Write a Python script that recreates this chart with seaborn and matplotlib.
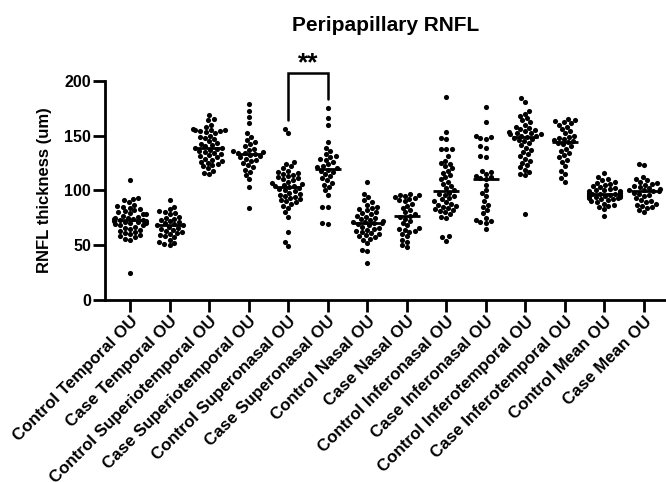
import numpy as np
import pandas as pd
import matplotlib
matplotlib.use("Agg")
import matplotlib.pyplot as plt
import seaborn as sns

categories = ["Control Temporal OU", "Case Temporal OU", "Control Superiotemporal OU",
              "Case Superiotemporal OU", "Control Superonasal OU", "Case Superonasal OU",
              "Control Nasal OU", "Case Nasal OU", "Control Inferonasal OU",
              "Case Inferonasal OU", "Control Inferotemporal OU", "Case Inferotemporal OU",
              "Control Mean OU", "Case Mean OU"]

control_temporal = [109, 25, 93, 92, 91, 89, 87, 86, 85, 84, 83, 82, 81, 80, 79, 78, 78, 77, 76, 75,
                    75, 74, 74, 73, 73, 72, 72, 71, 71, 70, 70, 69, 68, 68, 67, 66, 65, 64, 63, 62,
                    61, 60, 59, 58, 57, 56, 55]
case_temporal = [91, 85, 83, 81, 80, 79, 78, 76, 75, 74, 73, 72, 71, 70, 69, 68, 68, 67, 66, 65,
                 64, 63, 62, 61, 60, 59, 58, 57, 55, 53, 52, 51, 50]
control_superiotemporal = [169, 165, 164, 160, 158, 156, 155, 155, 155, 154, 154, 153, 152, 150, 149,
                           148, 147, 145, 143, 142, 141, 140, 139, 139, 138, 137, 136, 135, 134, 133,
                           132, 131, 130, 129, 128, 127, 126, 125, 124, 123, 122, 120, 118, 116, 115]
case_superiotemporal = [179, 172, 167, 161, 152, 149, 146, 144, 142, 140, 138, 137, 136, 135, 134, 134,
                        133, 132, 131, 130, 129, 128, 127, 125, 123, 121, 119, 117, 114, 110, 103, 84]
control_superonasal = [156, 152, 126, 124, 122, 120, 118, 117, 116, 115, 114, 113, 112, 111, 110, 109,
                       108, 107, 106, 105, 104, 104, 103, 102, 101, 100, 99, 98, 97, 96, 95, 94, 93,
                       92, 91, 90, 89, 88, 86, 84, 80, 76, 62, 53, 49]
case_superonasal = [175, 166, 160, 144, 139, 136, 133, 131, 130, 129, 128, 126, 124, 122, 121, 120,
                    119, 118, 117, 115, 113, 111, 109, 107, 105, 103, 100, 96, 85, 85, 70, 69]
control_nasal = [108, 97, 94, 91, 89, 87, 85, 84, 83, 82, 80, 79, 78, 77, 76, 75, 74, 73, 72, 71, 71,
                 70, 70, 69, 68, 67, 66, 65, 64, 63, 62, 61, 60, 59, 58, 57, 56, 55, 52, 46, 45, 34]
case_nasal = [97, 96, 96, 95, 94, 93, 92, 91, 90, 88, 86, 84, 82, 80, 78, 77, 76, 74, 72, 70, 68, 66,
              65, 64, 63, 62, 60, 58, 55, 53, 50, 48]
control_inferonasal = [185, 153, 148, 147, 138, 138, 138, 131, 127, 125, 124, 122, 120, 118, 116, 114,
                       112, 110, 108, 106, 104, 102, 100, 98, 97, 96, 95, 93, 92, 90, 89, 88, 87, 86,
                       85, 84, 83, 82, 81, 80, 78, 76, 75, 58, 57, 54]
case_inferonasal = [176, 162, 150, 149, 148, 147, 140, 139, 131, 130, 118, 117, 115, 113, 112, 111,
                    110, 105, 100, 98, 95, 90, 87, 85, 82, 79, 75, 73, 72, 71, 70, 65]
control_inferotemporal = [184, 181, 172, 170, 168, 166, 164, 162, 160, 158, 157, 156, 155, 154, 153,
                          152, 152, 151, 151, 150, 150, 149, 148, 147, 146, 145, 143, 141, 139, 137,
                          135, 133, 131, 129, 127, 125, 123, 121, 119, 117, 115, 114, 78]
case_inferotemporal = [165, 164, 163, 162, 161, 160, 158, 156, 154, 152, 150, 149, 148, 147, 146, 145,
                       144, 143, 142, 140, 138, 136, 134, 132, 130, 128, 126, 122, 118, 115, 111, 108]
control_mean = [116, 112, 110, 109, 108, 107, 106, 105, 104, 103, 102, 101, 100, 100, 99, 99, 98, 98,
                97, 97, 97, 96, 96, 96, 95, 95, 95, 94, 94, 93, 93, 92, 92, 91, 90, 89, 88, 87, 86,
                85, 83, 77]
case_mean = [124, 123, 112, 110, 109, 108, 107, 106, 105, 104, 103, 102, 101, 100, 100, 99, 99, 98, 97,
             96, 95, 93, 91, 90, 89, 88, 87, 86, 85, 84, 82, 80]

series = [control_temporal, case_temporal, control_superiotemporal, case_superiotemporal,
          control_superonasal, case_superonasal, control_nasal, case_nasal,
          control_inferonasal, case_inferonasal, control_inferotemporal, case_inferotemporal,
          control_mean, case_mean]

y_ticks = [0, 50, 100, 150, 200]

rows = []
for cat, vals in zip(categories, series):
    for v in vals:
        rows.append((cat, v))
df = pd.DataFrame(rows, columns=["group", "value"])

sns.set_style("ticks")
plt.rcParams['font.family'] = ['Liberation Sans', 'DejaVu Sans']
plt.rcParams['font.weight'] = 'bold'
plt.rcParams['text.color'] = 'black'
plt.rcParams['axes.labelcolor'] = 'black'
plt.rcParams['xtick.color'] = 'black'
plt.rcParams['ytick.color'] = 'black'
plt.rcParams['axes.edgecolor'] = 'black'

fig = plt.figure(figsize=(6.66, 4.82), dpi=100)
ax = fig.add_axes([105 / 666, (482 - 300) / 482, 1 - 105 / 666, (300 - 80.7) / 482])

sns.swarmplot(data=df, x="group", y="value", order=categories, color="black",
              size=3.7, ax=ax, zorder=3)
sns.boxplot(data=df, x="group", y="value", order=categories, showbox=False, showcaps=False,
            showfliers=False, whis=0, width=0.66,
            whiskerprops={'visible': False},
            medianprops={'color': 'black', 'linewidth': 2.0, 'zorder': 4}, ax=ax)

ax.set_xlim(-0.632, 13.56)
ax.set_ylim(0, 200)
ax.set_yticks(y_ticks)
ax.set_xlabel("")
ax.set_ylabel("RNFL thickness (um)", fontsize=12, fontweight='bold', labelpad=9)
ax.set_title("Peripapillary RNFL", fontsize=15, fontweight='bold', pad=36)

ax.set_xticks(range(len(categories)))
ax.set_xticklabels(categories, rotation=45, ha='right', rotation_mode='anchor',
                   fontsize=12.2, fontweight='bold')
for lab in ax.get_yticklabels():
    lab.set_fontweight('bold')
    lab.set_fontsize(11.5)

for s in ['top', 'right']:
    ax.spines[s].set_visible(False)
for s in ['left', 'bottom']:
    ax.spines[s].set_linewidth(2.0)
ax.tick_params(axis='both', width=2.0, length=8.5, pad=1.5)

# significance bracket
ax.plot([4, 4, 5, 5], [164, 207, 207, 183], color='black', lw=1.8, clip_on=False,
        solid_joinstyle='miter')
ax.text(4.5, 209.5, "**", ha='center', va='baseline', fontsize=19, fontweight='bold')

fig.savefig("out.png", dpi=100)
